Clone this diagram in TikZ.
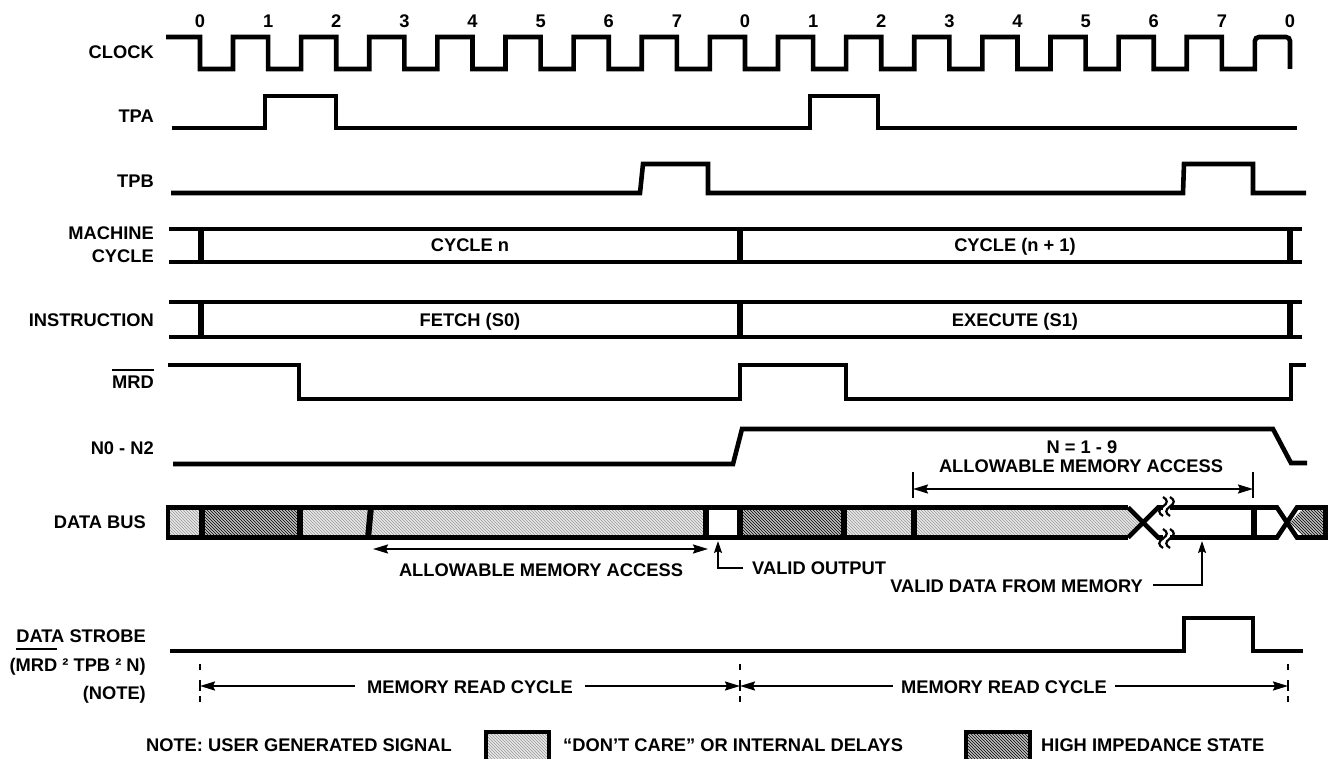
\documentclass[tikz,border=0pt]{standalone}
\usepackage{fontspec}
\setmainfont{Liberation Sans}
\usetikzlibrary{arrows.meta,patterns}
\newcommand{\ovl}[2][5pt]{\leavevmode\setbox0=\hbox{#2}\rlap{\raisebox{\dimexpr\ht0+#1\relax}{\rule{\wd0}{1.8pt}}}\box0\relax}
\begin{document}
\begin{tikzpicture}[x=1pt,y=-1pt,
  every node/.style={font=\fontsize{18.3}{20}\selectfont\bfseries, inner sep=0pt},
  sig/.style={line width=4.6pt},
  barline/.style={line width=6pt},
  thinline/.style={line width=1.8pt},
  arr/.style={thinline, -{Stealth[length=15pt,width=9pt,inset=2pt]}},
  darr/.style={thinline, {Stealth[length=15pt,width=9pt,inset=2pt]}-{Stealth[length=15pt,width=9pt,inset=2pt]}},
  lbl/.style={anchor=base east},
  txt/.style={anchor=base},
  lightfill/.style={preaction={fill=gray!18}, pattern=north west lines, pattern color=gray!80},
  darkfill/.style={preaction={fill=gray!50}, pattern=north west lines, pattern color=black},
  tick/.style={line width=1.6pt, dash pattern=on 6pt off 10pt}
]
\useasboundingbox (0,0) rectangle (1334,759);
\fill[white] (0,0) rectangle (1334,759);

% ---------- row labels ----------
\node[lbl] (lclock) at (154,58.5) {CLOCK};
\node[lbl] (ltpa) at (154,122.5) {TPA};
\node[lbl] (ltpb) at (154,187.5) {TPB};
\node[lbl] (lmc1) at (154,239.5) {MACHINE};
\node[lbl] (lmc2) at (154,262.5) {CYCLE};
\node[lbl] (linst) at (154,326.5) {INSTRUCTION};
\node[lbl] (lmrd) at (154,388.5) {\ovl[5pt]{MRD}};
\node[lbl] (ln) at (154,454.5) {N0 - N2};
\node[lbl] (lbus) at (146,528.5) {DATA BUS};
\node[lbl] (lds1) at (146,642.5) {DATA STROBE};
\node[lbl] (lds2) at (146,671.5) {(\ovl[9pt]{MRD} ² TPB ² N)};
\node[lbl] (lds3) at (146,699.5) {(NOTE)};

% ---------- clock ----------
\foreach \k in {0,...,16}{
  \pgfmathtruncatemacro\l{mod(\k,8)}
  \node[txt] (clk\k) at ({200+68.125*\k},27.5) {\l};
}
\draw[sig] (166,37) foreach \k in {0,...,14} { -- ({200+68.125*\k},37) -- ++(0,32) -- ++(33,0) -- ++(0,-32) } -- (1221.9,37) -- (1221.9,69) -- (1254.9,69) [rounded corners=4pt] -- (1254.9,37) -- (1290,37) [sharp corners] -- (1290,69);

% ---------- TPA / TPB ----------
\draw[sig] (172,128) -- (265,128) -- (265,96) -- (336,96) -- (336,128) -- (810,128) -- (810,96) -- (878,96) -- (878,128) -- (1297,128);
\draw[sig] (171,193) -- (640,193) -- (643,164) -- (708,164) -- (708,193) -- (1183,193) -- (1184,164) -- (1253,164) -- (1253,193) -- (1306,193);

% ---------- machine cycle ----------
\draw[sig] (169,229) -- (1302,229);
\draw[sig] (169,262) -- (1302,262);
\foreach \x in {201,740,1290}{ \draw[barline] (\x,229) -- (\x,262); }
\node[txt] (cyn) at (470,251.5) {CYCLE n};
\node[txt] (cyn1) at (1015,251.5) {CYCLE (n + 1)};

% ---------- instruction ----------
\draw[sig] (169,302) -- (1302,302);
\draw[sig] (169,337) -- (1302,337);
\foreach \x in {201,740,1290}{ \draw[barline] (\x,302) -- (\x,337); }
\node[txt] (fetch) at (470,326.5) {FETCH (S0)};
\node[txt] (exec) at (1015,326.5) {EXECUTE (S1)};

% ---------- MRD ----------
\draw[sig] (168,365) -- (299,365) -- (299,399) -- (740,399) -- (740,365) -- (846,365) -- (846,399) -- (1291,399) -- (1291,365) -- (1306,365);

% ---------- N0-N2 ----------
\draw[sig] (173,464) -- (733,464) -- (742,429) -- (1273,429) -- (1291,463) -- (1307,463);
\node[txt] (n19) at (1082,453.5) {N = 1 - 9};
\node[txt] (amaU) at (1081,472.5) {ALLOWABLE MEMORY ACCESS};
\coordinate (amaUl) at (913,489);
\coordinate (amaUr) at (1253,489);
\draw[thinline] (913,472) -- (913,498);
\draw[thinline] (1253,472) -- (1253,498);
\draw[darr] (amaUl) -- (amaUr);

% ---------- data bus ----------
\fill[lightfill] (170,510) rectangle (199,535);
\fill[darkfill] (204,510) rectangle (297,535);
\fill[lightfill] (302,510) rectangle (368,535);
\fill[lightfill] (371,510) rectangle (704,535);
\fill[darkfill] (742,510) rectangle (842,535);
\fill[lightfill] (845,510) rectangle (912,535);
\fill[lightfill] (915,510) -- (1128,510) -- (1140.5,522.5) -- (1128,535) -- (915,535) -- cycle;
\fill[darkfill] (1290,522.5) -- (1302,510) -- (1323,510) -- (1323,535) -- (1302,535) -- cycle;
\draw[sig] (1128,507.5) -- (168,507.5) -- (168,537.5) -- (1128,537.5);
\draw[sig] (1128,507.5) -- (1158,537.5) -- (1277,537.5) -- (1297,507.5) -- (1325,507.5);
\draw[sig] (1128,537.5) -- (1158,507.5) -- (1277,507.5) -- (1297,537.5) -- (1325,537.5);
\draw[line width=5pt] (1325,505) -- (1325,540);
\foreach \x in {201.5,299.5,706,739.5,843.5,913.5,1254}{ \draw[barline] (\x,507) -- (\x,538); }
\draw[barline] (368,538) -- (371,507);
% break marks
\fill[white] (1163,503) rectangle (1170,512);
\fill[white] (1163,533) rectangle (1170,542);
\foreach \x in {1163,1170}{
  \draw[line width=2.2pt] (\x,497) .. controls (\x+5,500) and (\x+5,503) .. (\x,506.5) .. controls (\x-5,510) and (\x-5,513) .. (\x,516);
  \draw[line width=2.2pt] (\x,529) .. controls (\x+5,532) and (\x+5,535) .. (\x,538.5) .. controls (\x-5,542) and (\x-5,545) .. (\x,548);
}

% allowable memory access (lower)
\coordinate (amaLl) at (373,549);
\coordinate (amaLr) at (708,549);
\draw[darr] (amaLl) -- (amaLr);
\node[txt] (amaL) at (541,576.5) {ALLOWABLE MEMORY ACCESS};

% valid output
\node[anchor=base west] (vo) at (752,574.5) {VALID OUTPUT};
\coordinate (voA) at (743,568);
\coordinate (voB) at (718,541);
\draw[thinline, -{Stealth[length=12pt,width=8pt,inset=2pt]}] (voA) -| (voB);

% valid data from memory
\node[anchor=base east] (vd) at (1143,592) {VALID DATA FROM MEMORY};
\coordinate (vdA) at (1153,585);
\coordinate (vdB) at (1202,541);
\draw[thinline, -{Stealth[length=12pt,width=8pt,inset=2pt]}] (vdA) -| (vdB);

% ---------- data strobe ----------
\draw[sig] (170,651) -- (1184,651) -- (1184,618) -- (1253,618) -- (1253,651) -- (1303,651);

% ---------- memory read cycle ----------
\foreach \x/\n in {200/ta,740/tb,1288/tc}{
  \draw[tick] (\x,664) -- (\x,708);
  \coordinate (\n) at (\x,686);
}
\draw[thinline] (200,681) -- (200,691);
\draw[thinline] (740,681) -- (740,691);
\draw[thinline] (1288,681) -- (1288,691);
\node[txt] (mrc1) at (470,693) {MEMORY READ CYCLE};
\node[txt] (mrc2) at (1004,693) {MEMORY READ CYCLE};
\coordinate (m1a) at (355,686);
\coordinate (m1b) at (585,686);
\coordinate (m2a) at (893,686);
\coordinate (m2b) at (1115,686);
\draw[arr] (m1a) -- (ta);
\draw[arr] (m1b) -- (tb);
\draw[arr] (m2a) -- (tb);
\draw[arr] (m2b) -- (tc);

% ---------- legend ----------
\node[anchor=base east] (note) at (452,751.5) {NOTE: USER GENERATED SIGNAL};
\draw[line width=4pt, lightfill] (486,732) rectangle (549,764);
\node[anchor=base west] (dc) at (563,751.5) {“DON’T CARE” OR INTERNAL DELAYS};
\draw[line width=4pt, darkfill] (966,732) rectangle (1030,764);
\node[anchor=base west] (hi) at (1041,751.5) {HIGH IMPEDANCE STATE};
\end{tikzpicture}
\end{document}
